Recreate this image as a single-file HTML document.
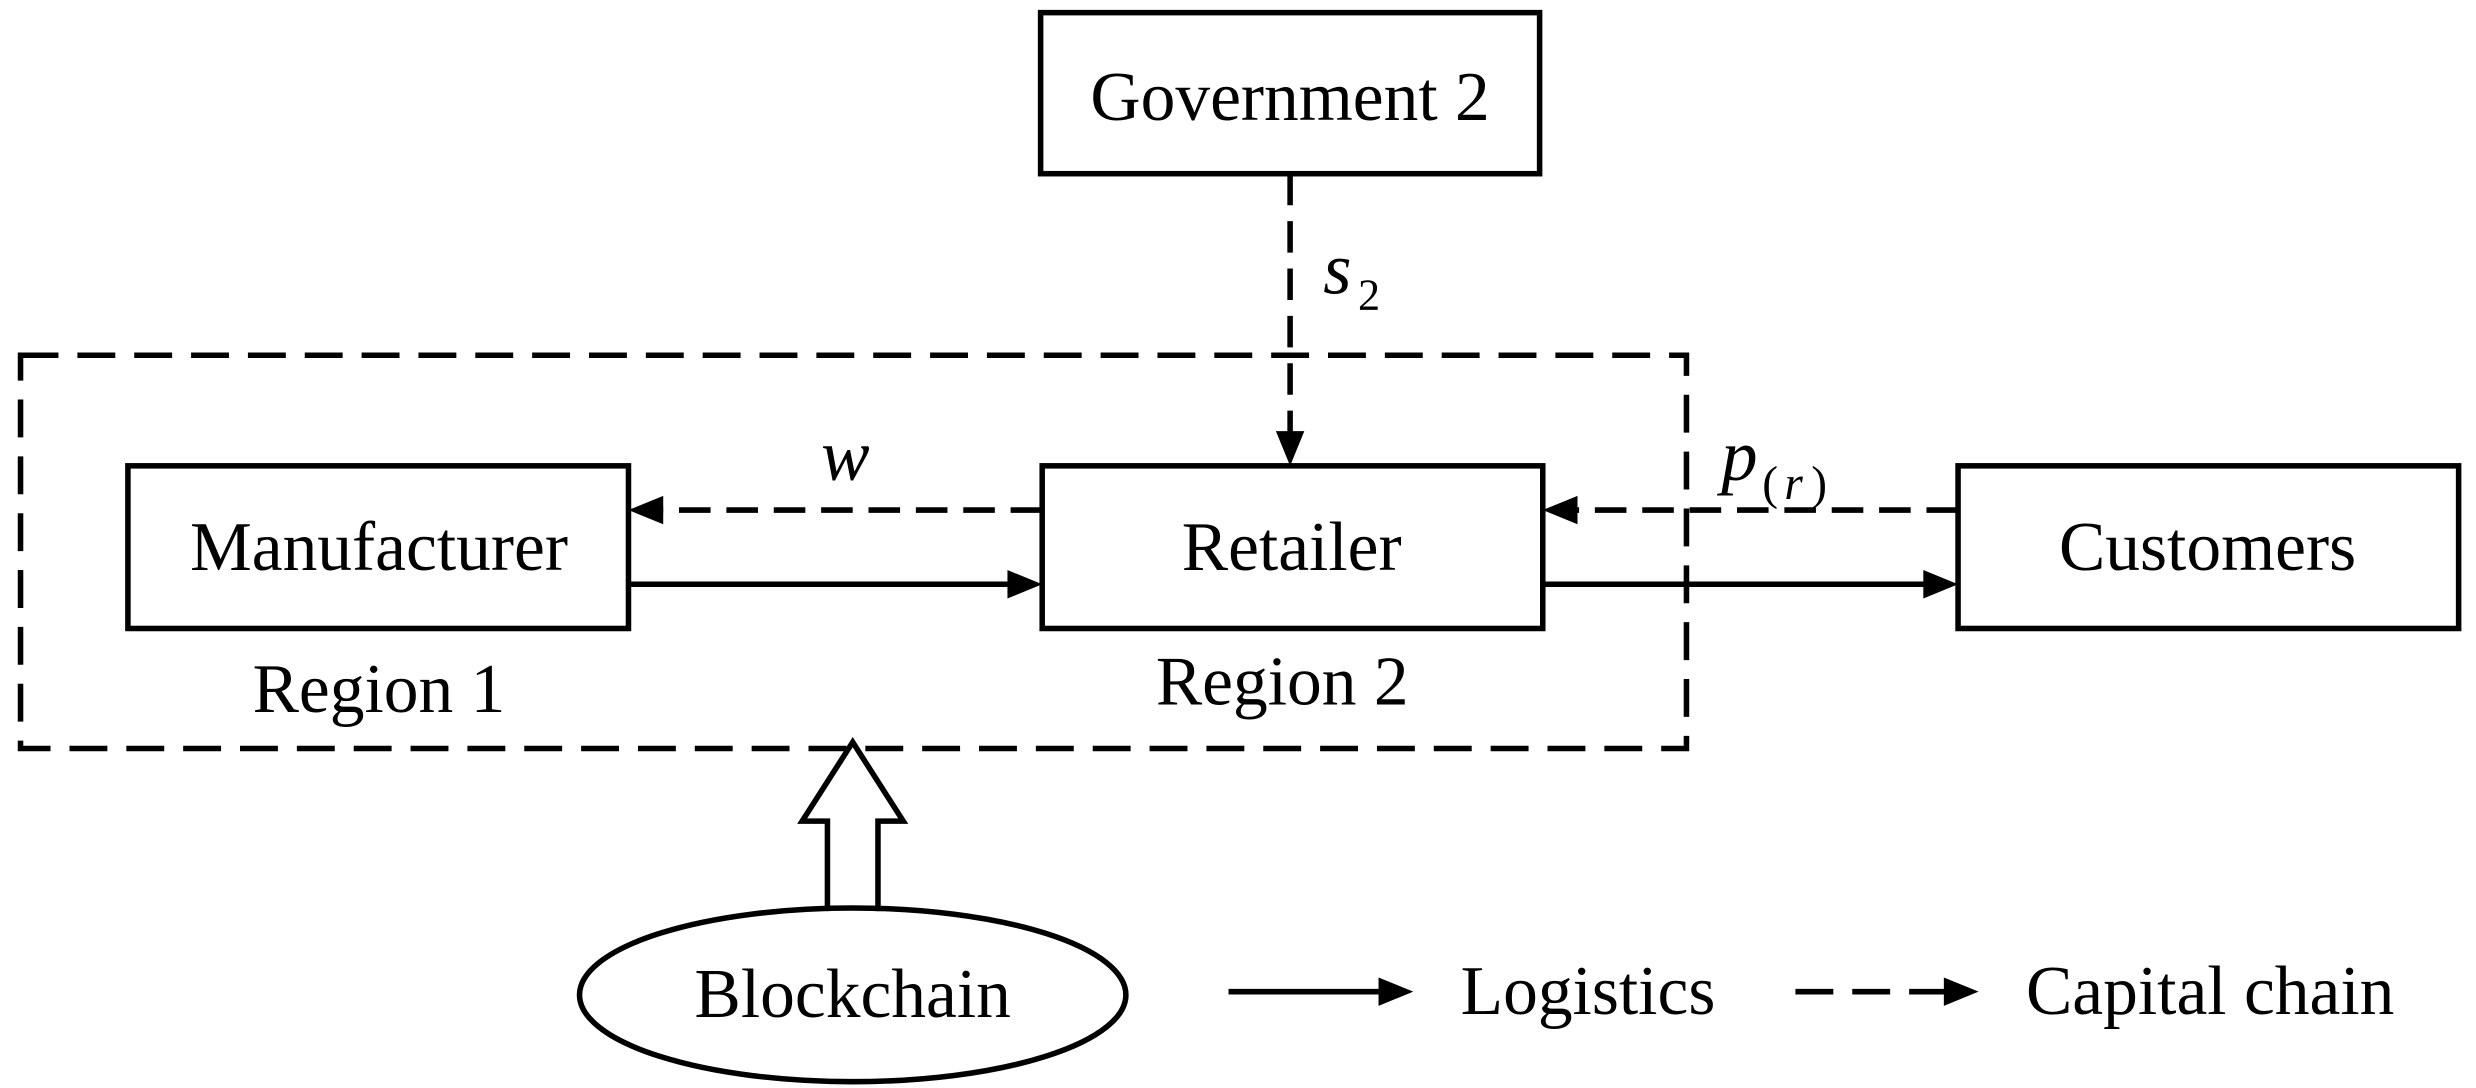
<!DOCTYPE html>
<html><head><style>html,body{margin:0;padding:0;background:#fff;}svg{display:block}</style></head>
<body>
<svg width="2476" height="1088" viewBox="0 0 1568 689" preserveAspectRatio="none" xmlns="http://www.w3.org/2000/svg" font-family="'Liberation Serif', serif" font-size="44">
<rect width="1568" height="689" fill="#fff"/>
<g fill="none" stroke="#000" stroke-width="3.5">
<rect x="659" y="8" width="316" height="102"/>
<rect x="81" y="295" width="317" height="103"/>
<rect x="660" y="295" width="317" height="103"/>
<rect x="1240" y="295" width="317" height="103"/>
<rect x="13" y="225" width="1055" height="249" stroke-dasharray="24,12"/>
<line x1="817" y1="110" x2="817" y2="278" stroke-dasharray="20,10"/>
<line x1="660" y1="323" x2="415" y2="323" stroke-dasharray="20,10"/>
<line x1="1240" y1="323" x2="994" y2="323" stroke-dasharray="20,10"/>
<line x1="398" y1="370" x2="645" y2="370"/>
<line x1="977" y1="370" x2="1225" y2="370"/>
<ellipse cx="540" cy="630" rx="173" ry="55"/>
<path d="M524,577 L524,520 L508,520 L540,470 L572,520 L556,520 L556,577"/>
<line x1="778" y1="628" x2="878" y2="628"/>
<line x1="1137" y1="628" x2="1237" y2="628" stroke-dasharray="24,12"/>
</g>
<g fill="#000">
<polygon points="817,295 808,273 826,273"/>
<polygon points="398,323 420,314 420,332"/>
<polygon points="977,323 999,314 999,332"/>
<polygon points="660,370 638,361 638,379"/>
<polygon points="1240,370 1218,361 1218,379"/>
<polygon points="895,628 873,619 873,637"/>
<polygon points="1253,628 1231,619 1231,637"/>
</g>
<g text-anchor="middle">
<text x="817" y="76">Government 2</text>
<text x="240" y="361">Manufacturer</text>
<text x="818" y="361">Retailer</text>
<text x="1398" y="361">Customers</text>
<text x="240" y="451">Region 1</text>
<text x="812" y="446">Region 2</text>
<text x="540" y="644">Blockchain</text>
</g>
<text x="925" y="642">Logistics</text>
<text x="1283" y="642">Capital chain</text>
<text x="838" y="186" font-style="italic" font-size="46">s</text>
<text x="860" y="196" font-size="28">2</text>
<text x="520" y="304" font-style="italic" font-size="46">w</text>
<text x="1090" y="304" font-style="italic" font-size="46">p</text>
<text x="1116" y="316" font-size="30">(</text>
<text x="1130" y="316" font-size="30" font-style="italic">r</text>
<text x="1147" y="316" font-size="30">)</text>
</svg>
</body></html>
